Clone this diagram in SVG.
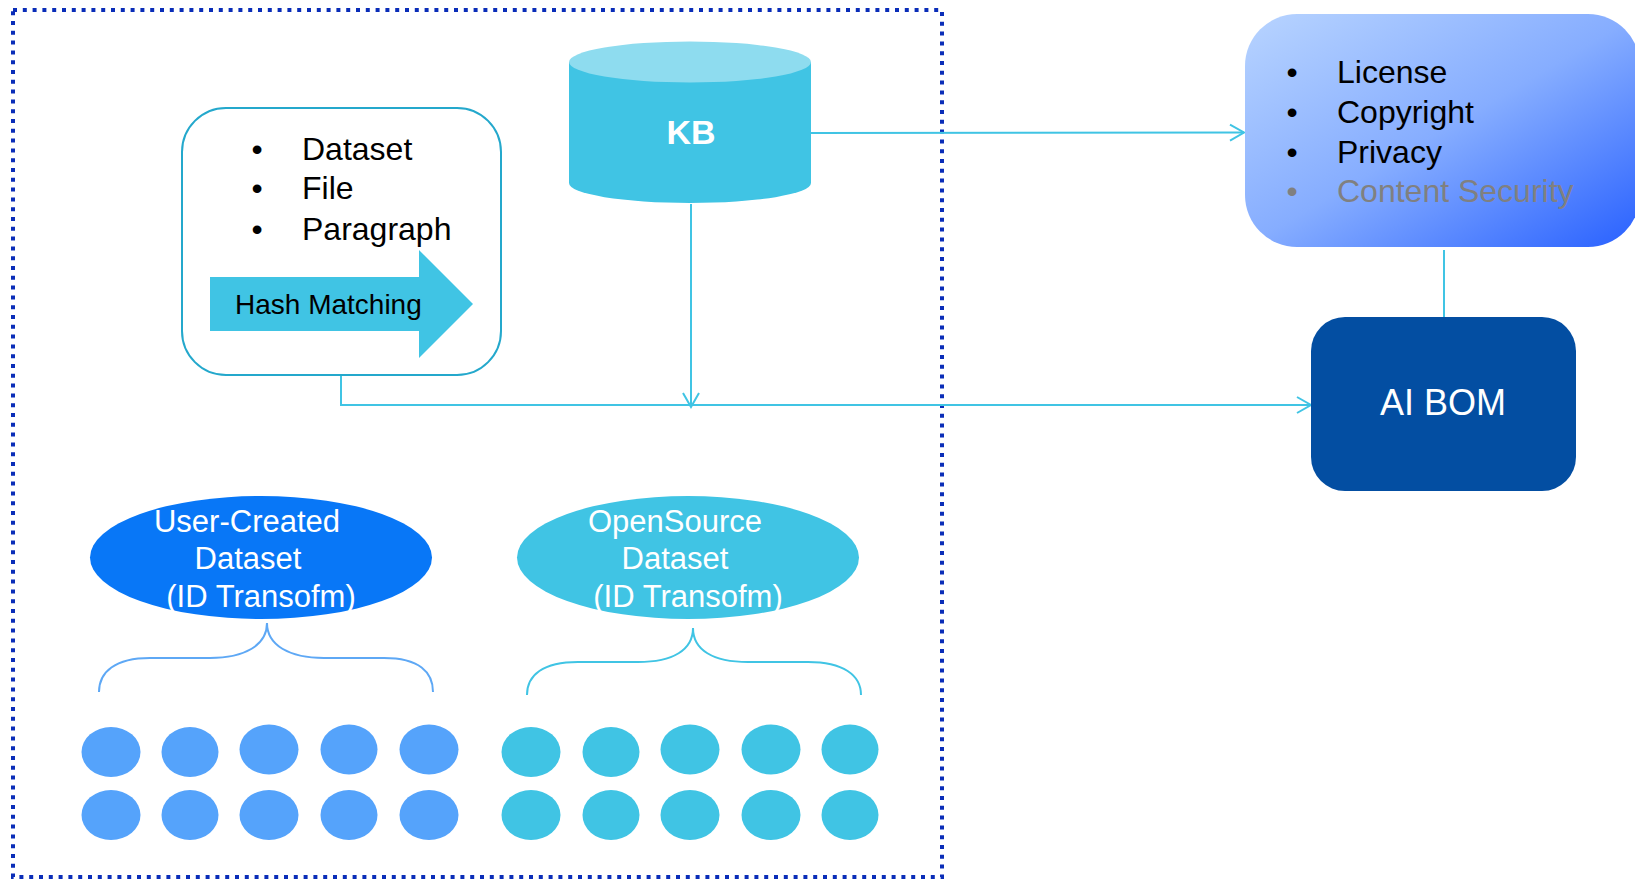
<svg xmlns="http://www.w3.org/2000/svg" width="1635" height="879" viewBox="0 0 1635 879">
<style>
.t{font-family:"Liberation Sans",Arial,sans-serif;}
.blk{fill:#000;font-size:32px;}
.wht{fill:#fff;font-size:31px;text-anchor:middle;}
.conn{fill:none;stroke:#40c4e4;stroke-width:2;}
.dotu{fill:#55a3fb;}
.doto{fill:#40c4e4;}
</style>
<defs>
<marker id="arr" markerUnits="userSpaceOnUse" markerWidth="20" markerHeight="20" viewBox="0 0 20 20" refX="15" refY="10" orient="auto">
<path d="M1,2 L15,10 L1,18" fill="none" stroke="#40c4e4" stroke-width="2"/>
</marker>
<linearGradient id="g1" x1="0" y1="0" x2="1" y2="1">
<stop offset="0" stop-color="#b8d4ff"/>
<stop offset="0.5" stop-color="#86adff"/>
<stop offset="1" stop-color="#2860ff"/>
</linearGradient>
</defs>
<rect width="1635" height="879" fill="#fff"/>
<g id="boundary">
<rect x="13" y="10" width="929" height="867" fill="none" stroke="#0a2db8" stroke-width="4" stroke-dasharray="4 5.8"/>
</g>
<g id="connectors">
<path class="conn" d="M341,375 L341,405 L1311,405" marker-end="url(#arr)"/>
<path class="conn" d="M691,204 L691,407" marker-end="url(#arr)"/>
<path class="conn" d="M811,133 L1244,132.5" marker-end="url(#arr)"/>
<path class="conn" d="M1444,250 L1444,318"/>
</g>
<g id="granularity">
<rect x="182" y="108" width="319" height="267" rx="44" fill="#fff" stroke="#24a8cc" stroke-width="2"/>
<g class="t blk">
<text x="257" y="160" text-anchor="middle">•</text>
<text x="302" y="160">Dataset</text>
<text x="257" y="199" text-anchor="middle">•</text>
<text x="302" y="199">File</text>
<text x="257" y="240" text-anchor="middle">•</text>
<text x="302" y="240">Paragraph</text>
</g>
<path d="M210,277 L419,277 L419,250 L473,304 L419,358 L419,331 L210,331 Z" fill="#40c4e4"/>
<text class="t" x="235" y="314" font-size="28" fill="#000">Hash Matching</text>
</g>
<g id="kb">
<path d="M569,62 L569,183 A121,20 0 0 0 811,183 L811,62 Z" fill="#40c4e4"/>
<ellipse cx="690" cy="62" rx="121" ry="20.5" fill="#8edcef"/>
<text class="t" x="691" y="144" font-size="34" font-weight="bold" fill="#fff" text-anchor="middle">KB</text>
</g>
<g id="compliance">
<rect x="1245" y="14" width="395" height="233" rx="52" fill="url(#g1)"/>
<g class="t blk">
<text x="1292" y="83" text-anchor="middle">•</text>
<text x="1337" y="83">License</text>
<text x="1292" y="123" text-anchor="middle">•</text>
<text x="1337" y="123">Copyright</text>
<text x="1292" y="163" text-anchor="middle">•</text>
<text x="1337" y="163">Privacy</text>
<text x="1292" y="202" text-anchor="middle" fill="#808080">•</text>
<text x="1337" y="202" fill="#808080">Content Security</text>
</g>
</g>
<g id="aibom">
<rect x="1311" y="317" width="265" height="174" rx="34" fill="#034ea2"/>
<text class="t" x="1443" y="415" font-size="36" fill="#fff" text-anchor="middle">AI BOM</text>
</g>
<g id="user-dataset">
<ellipse cx="261" cy="557.5" rx="171" ry="61.5" fill="#0877f7"/>
<g class="t wht">
<text x="247" y="532">User-Created</text>
<text x="248" y="569">Dataset</text>
<text x="261" y="607">(ID Transofm)</text>
</g>
<path d="M99,692 C99,672 115,658 150,658 L210,658 C245,658 267,645 267,623 C267,645 289,658 324,658 L384,658 C419,658 433,672 433,692" fill="none" stroke="#5ea8f5" stroke-width="2"/>
<g class="dotu">
<ellipse cx="111" cy="752" rx="29.5" ry="25"/>
<ellipse cx="190" cy="752" rx="28.5" ry="25"/>
<ellipse cx="269" cy="749.5" rx="29.5" ry="25"/>
<ellipse cx="349" cy="749.5" rx="28.5" ry="25"/>
<ellipse cx="429" cy="749.5" rx="29.5" ry="25"/>
<ellipse cx="111" cy="815" rx="29.5" ry="25"/>
<ellipse cx="190" cy="815" rx="28.5" ry="25"/>
<ellipse cx="269" cy="815" rx="29.5" ry="25"/>
<ellipse cx="349" cy="815" rx="28.5" ry="25"/>
<ellipse cx="429" cy="815" rx="29.5" ry="25"/>
</g>
</g>
<g id="opensource-dataset">
<ellipse cx="688" cy="557.5" rx="171" ry="61.5" fill="#40c4e4"/>
<g class="t wht">
<text x="675" y="532">OpenSource</text>
<text x="675" y="569">Dataset</text>
<text x="688" y="607">(ID Transofm)</text>
</g>
<path d="M527,695 C527,675 543,662 578,662 L638,662 C673,662 693,650 693,628 C693,650 713,662 748,662 L808,662 C843,662 861,675 861,695" fill="none" stroke="#40c4e4" stroke-width="2"/>
<g class="doto">
<ellipse cx="531" cy="752" rx="29.5" ry="25"/>
<ellipse cx="611" cy="752" rx="28.5" ry="25"/>
<ellipse cx="690" cy="749.5" rx="29.5" ry="25"/>
<ellipse cx="771" cy="749.5" rx="29.5" ry="25"/>
<ellipse cx="850" cy="749.5" rx="28.5" ry="25"/>
<ellipse cx="531" cy="815" rx="29.5" ry="25"/>
<ellipse cx="611" cy="815" rx="28.5" ry="25"/>
<ellipse cx="690" cy="815" rx="29.5" ry="25"/>
<ellipse cx="771" cy="815" rx="29.5" ry="25"/>
<ellipse cx="850" cy="815" rx="28.5" ry="25"/>
</g>
</g>
</svg>
